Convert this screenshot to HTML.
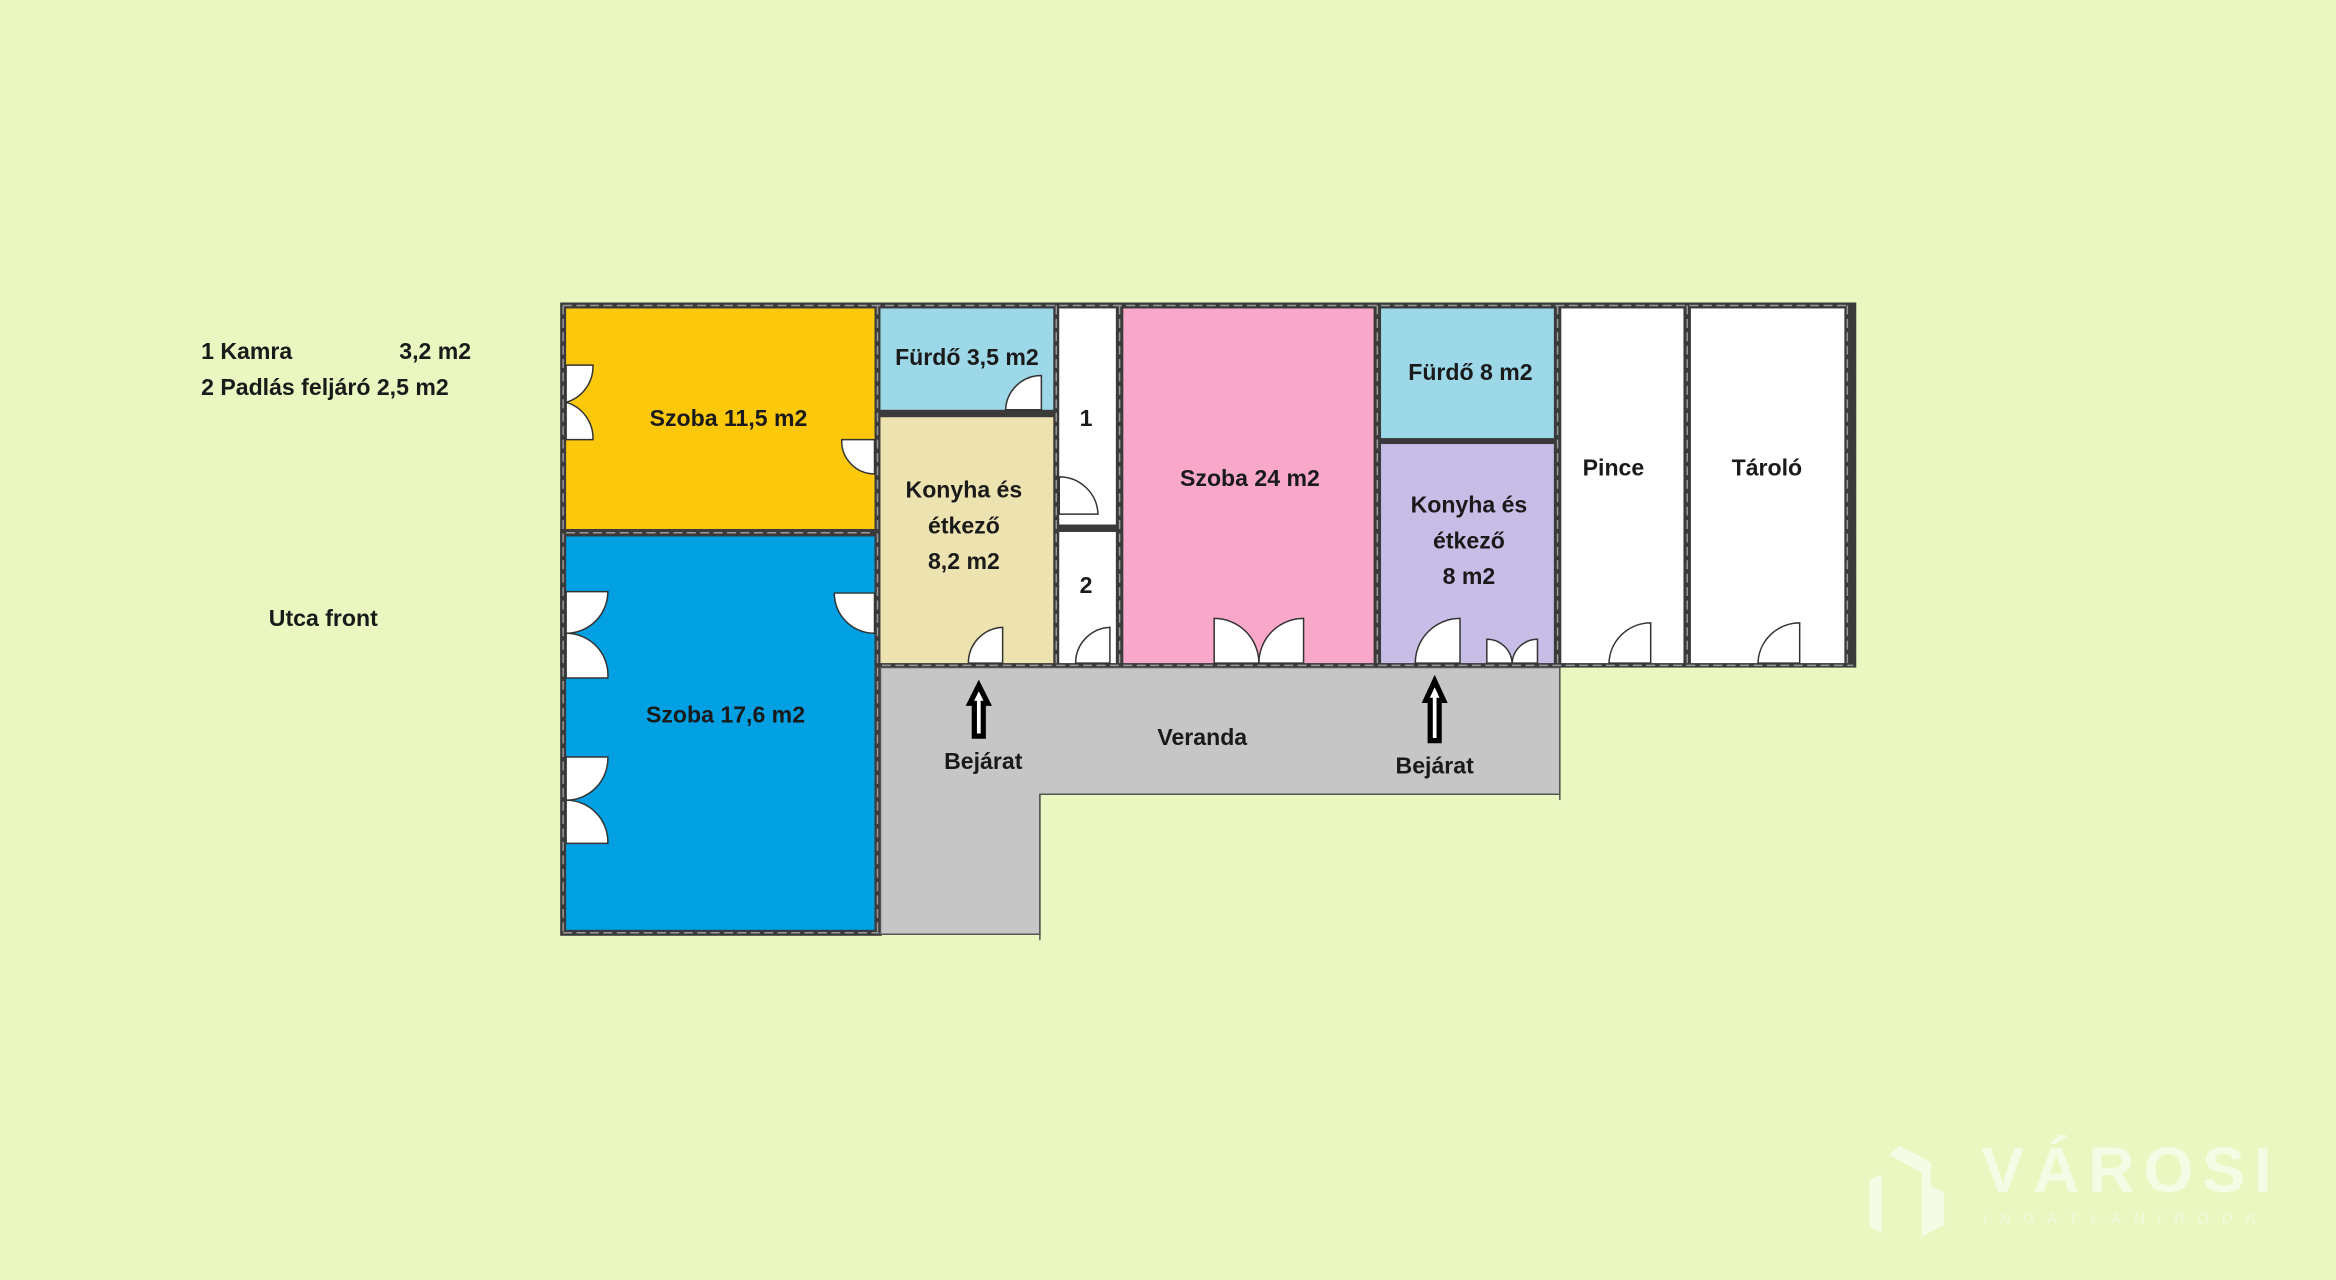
<!DOCTYPE html>
<html><head><meta charset="utf-8"><style>
html,body{margin:0;padding:0;background:#eaf7c0;}
svg{display:block;}
text{font-family:"Liberation Sans",sans-serif;font-weight:bold;fill:#1a1a1a;font-size:15.5px;}
</style></head><body>
<svg width="2336" height="1280" viewBox="0 0 1568 859" preserveAspectRatio="none" xmlns="http://www.w3.org/2000/svg">
<rect width="1568" height="859" fill="#eaf7c0"/>
<rect x="376" y="203" width="870" height="245" fill="#3a3a3a"/>
<rect x="376" y="355" width="216" height="273" fill="#3a3a3a"/>
<path d="M591 448 H1047 V533 H698 V627 H591 Z" fill="#c6c6c6" stroke="#555" stroke-width="1"/>
<line x1="1047" y1="448" x2="1047" y2="537" stroke="#555" stroke-width="1"/>
<line x1="698" y1="533" x2="698" y2="631" stroke="#555" stroke-width="1"/>
<rect x="380" y="207" width="207" height="148" fill="#fcc80c"/>
<rect x="380" y="360" width="207" height="264" fill="#00a0e3"/>
<rect x="591" y="207" width="116" height="68" fill="#9dd8e8"/>
<rect x="591" y="280" width="116" height="165" fill="#ede3b0"/>
<rect x="711" y="207" width="38" height="145" fill="#fff"/>
<rect x="711" y="357" width="38" height="88" fill="#fff"/>
<rect x="754" y="207" width="168" height="238" fill="#f9a8c9"/>
<rect x="927" y="207" width="116" height="87" fill="#9dd8e8"/>
<rect x="927" y="298" width="116" height="147" fill="#c8bde6"/>
<rect x="1048" y="207" width="82" height="238" fill="#fff"/>
<rect x="1135" y="207" width="103" height="238" fill="#fff"/>
<g fill="#fff" stroke="#333" stroke-width="1">
<path d="M380 245 H398 A25 25 0 0 1 380 270 Z"/>
<path d="M380 295 H398 A25 25 0 0 0 380 270 Z"/>
<path d="M587 295 H565 A22 22 0 0 0 587 318 Z"/>
<path d="M380 397 H408 A28 28 0 0 1 380 425 Z"/>
<path d="M380 455 H408 A28 28 0 0 0 380 425 Z"/>
<path d="M380 508 H408 A28 28 0 0 1 380 537 Z"/>
<path d="M380 566 H408 A28 28 0 0 0 380 537 Z"/>
<path d="M587 398 H560 A27 27 0 0 0 587 425 Z"/>
<path d="M699 252 V275 H675 A24 24 0 0 1 699 252 Z"/>
<path d="M673 421 V445 H650 A24 24 0 0 1 673 421 Z"/>
<path d="M711 320 A26 26 0 0 1 737 345 H711 Z"/>
<path d="M745 421 V445 H722 A24 24 0 0 1 745 421 Z"/>
<path d="M815 415 V445 H845 A30 30 0 0 0 815 415 Z"/>
<path d="M875 415 V445 H845 A30 30 0 0 1 875 415 Z"/>
<path d="M980 415 V445 H950 A30 30 0 0 1 980 415 Z"/>
<path d="M998 429 V445 H1015 A17 17 0 0 0 998 429 Z"/>
<path d="M1032 429 V445 H1015 A17 17 0 0 1 1032 429 Z"/>
<path d="M1108 418 V445 H1080 A28 28 0 0 1 1108 418 Z"/>
<path d="M1208 418 V445 H1180 A28 28 0 0 1 1208 418 Z"/>
</g>
<g stroke="#999" stroke-width="1" stroke-dasharray="6 3">
<line x1="378" y1="205" x2="1240" y2="205"/>
<line x1="378" y1="205" x2="378" y2="626"/>
<line x1="378" y1="626" x2="590" y2="626"/>
<line x1="592" y1="446.5" x2="1244" y2="446.5"/>
<line x1="1240" y1="205" x2="1240" y2="446"/>
<line x1="380" y1="357.5" x2="587" y2="357.5"/>
<line x1="589" y1="205" x2="589" y2="626"/>
<line x1="709" y1="205" x2="709" y2="446"/>
<line x1="751.5" y1="205" x2="751.5" y2="446"/>
<line x1="924.5" y1="205" x2="924.5" y2="446"/>
<line x1="1045.5" y1="205" x2="1045.5" y2="446"/>
<line x1="1132.5" y1="205" x2="1132.5" y2="446"/>
</g>
<g fill="#fff" stroke="#000" stroke-width="3.5" stroke-linejoin="miter">
<path d="M657 460 L663 472 H660 V494 H654 V472 H651 Z"/>
<path d="M963 457 L969 470 H966 V497 H960 V470 H957 Z"/>
</g>
<g text-anchor="middle">
<text x="489" y="286">Szoba 11,5 m2</text>
<text x="649" y="245">Fürdő 3,5 m2</text>
<text x="647" y="334">Konyha és</text>
<text x="647" y="358">étkező</text>
<text x="647" y="382">8,2 m2</text>
<text x="729" y="286">1</text>
<text x="729" y="398">2</text>
<text x="839" y="326">Szoba 24 m2</text>
<text x="987" y="255">Fürdő 8 m2</text>
<text x="986" y="344">Konyha és</text>
<text x="986" y="368">étkező</text>
<text x="986" y="392">8 m2</text>
<text x="1083" y="319">Pince</text>
<text x="1186" y="319">Tároló</text>
<text x="487" y="485">Szoba 17,6 m2</text>
<text x="807" y="500">Veranda</text>
<text x="660" y="516">Bejárat</text>
<text x="963" y="519">Bejárat</text>
<text x="217" y="420">Utca front</text>
</g>
<text x="135" y="241">1 Kamra</text>
<text x="268" y="241">3,2 m2</text>
<text x="135" y="265">2 Padlás feljáró 2,5 m2</text>
<g fill="#f6fbe6">
<path d="M1268 775 L1290 787 V830 L1305 822 V800 L1296 796 V780 L1275 769 Z"/>
<path d="M1255 792 L1263 788 V828 L1255 823 Z"/>
</g>
<text x="1330" y="800" style="font-size:43px;fill:#f6fbe6;letter-spacing:6px">VÁROSI</text>
<text x="1331" y="821" style="font-size:10px;font-weight:normal;fill:#f3f9df;letter-spacing:8.5px">INGATLANIRODA</text>
</svg>
</body></html>
